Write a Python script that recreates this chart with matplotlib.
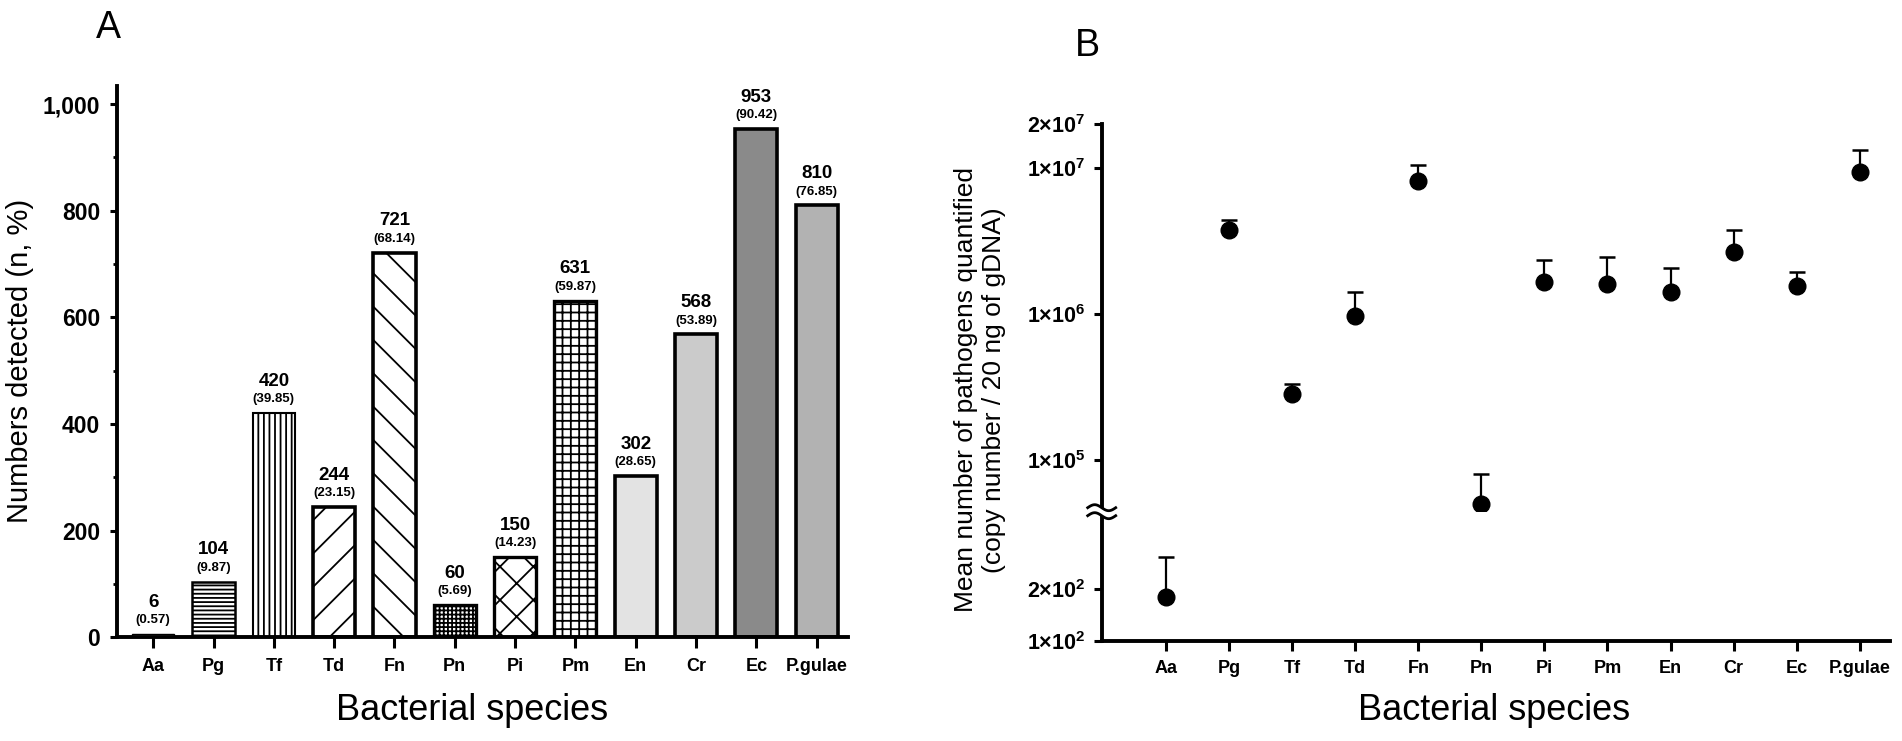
import matplotlib
matplotlib.use("agg")
import matplotlib.pyplot as plt
from matplotlib.lines import Line2D
from matplotlib.patches import Polygon
from matplotlib.ticker import NullLocator
import numpy as np

# data
species = ["Aa", "Pg", "Tf", "Td", "Fn", "Pn", "Pi", "Pm", "En", "Cr", "Ec", "P.gulae"]
detected_n = [6, 104, 420, 244, 721, 60, 150, 631, 302, 568, 953, 810]
detected_pct = [0.57, 9.87, 39.85, 23.15, 68.14, 5.69, 14.23, 59.87, 28.65, 53.89, 90.42, 76.85]
mean_copies = [178, 3.73e6, 2.81e5, 9.64e5, 8.11e6, 5.0e4, 1.65e6, 1.60e6, 1.41e6, 2.66e6, 1.55e6, 9.35e6]
upper_copies = [306, 4.38e6, 3.33e5, 1.42e6, 1.04e7, 8.07e4, 2.36e6, 2.46e6, 2.06e6, 3.74e6, 1.94e6, 1.32e7]

# bar styles for panel A
hatches = ["", "----", "|||", "/", "\\", "++++", "x", "++", "", "", "", ""]
fills = ["white"] * 8 + ["#e3e3e3", "#cbcbcb", "#8a8a8a", "#b2b2b2"]
edge_widths = [1.0, 1.8, 1.5, 2.6, 2.6, 2.4, 2.4, 2.4, 2.6, 2.6, 2.6, 2.6]

plt.rcParams["font.family"] = ["Liberation Sans", "DejaVu Sans"]
plt.rcParams["mathtext.fontset"] = "custom"
plt.rcParams["mathtext.rm"] = "Liberation Sans"
plt.rcParams["mathtext.bf"] = "Liberation Sans:bold"
plt.rcParams["hatch.linewidth"] = 1.3

W, H = 1902, 741
fig = plt.figure(figsize=(W / 100, H / 100), dpi=100)


def fx(px):
    return px / W


def fy(py):
    return 1 - py / H


x = np.arange(len(species))

# ---- panel A: bar chart ----
ax_a = fig.add_axes([fx(117), fy(637.3), fx(848 - 117), (637.3 - 86) / H])
for i in range(len(species)):
    ax_a.bar(x[i], detected_n[i], width=0.7, color=fills[i], edgecolor="black",
             linewidth=edge_widths[i], hatch=hatches[i])
    ax_a.annotate(f"{detected_n[i]}", (x[i], detected_n[i]), xytext=(0, 23),
                  textcoords="offset points", ha="center", va="center",
                  fontsize=13.5, fontweight="bold")
    ax_a.annotate(f"({detected_pct[i]:.2f})", (x[i], detected_n[i]), xytext=(0, 10),
                  textcoords="offset points", ha="center", va="center",
                  fontsize=9.5, fontweight="bold")

ax_a.set_xlim(-0.6, 11.52)
ax_a.set_ylim(0, 1034)
yt = np.arange(0, 1001, 200)
ax_a.set_yticks(yt, labels=[f"{v:,}" for v in yt], fontweight="bold")
ax_a.set_yticks(np.arange(100, 1000, 200), minor=True)
ax_a.set_xticks(x, labels=species, fontweight="bold")
for s in ["top", "right"]:
    ax_a.spines[s].set_visible(False)
for s in ["left", "bottom"]:
    ax_a.spines[s].set_linewidth(2.8)
ax_a.tick_params(axis="y", which="major", length=5, width=2.2, labelsize=16.5, pad=7)
ax_a.tick_params(axis="y", which="minor", length=3, width=2.0)
ax_a.tick_params(axis="x", length=8, width=2.2, labelsize=13, pad=7)

fig.text(fx(20), fy(361), "Numbers detected (n, %)", rotation=90,
         ha="center", va="center", fontsize=21)
fig.text(fx(472), fy(710), "Bacterial species", ha="center", va="center", fontsize=26)
fig.text(fx(108), fy(28), "A", ha="center", va="center", fontsize=27)

# ---- panel B: broken log axis ----
left_b, right_b = 1101.7, 1890
brk = 511.7
ax_hi = fig.add_axes([fx(left_b), fy(brk), fx(right_b - left_b), (brk - 124) / H])
ax_lo = fig.add_axes([fx(left_b), fy(640.7), fx(right_b - left_b), (640.7 - brk) / H])

mean_arr = np.array(mean_copies)
err = [np.zeros(len(species)), np.array(upper_copies) - mean_arr]
for ax in (ax_hi, ax_lo):
    ax.errorbar(x, mean_arr, yerr=err, fmt="o", color="black", ms=12,
                elinewidth=1.6, capsize=6, capthick=1.8)
    ax.set_yscale("log")
    ax.set_xlim(-1.02, 11.48)
    ax.yaxis.set_minor_locator(NullLocator())
    ax.spines["top"].set_visible(False)
    ax.spines["right"].set_visible(False)
    ax.spines["left"].set_linewidth(2.8)
    ax.tick_params(axis="y", length=6, width=2.2, labelsize=15.5, pad=6)

ax_hi.set_ylim(10 ** 4.646, 2e7)
ax_hi.set_yticks([1e5, 1e6, 1e7, 2e7],
                 labels=[r"$\mathbf{1×10^{5}}$", r"$\mathbf{1×10^{6}}$",
                         r"$\mathbf{1×10^{7}}$", r"$\mathbf{2×10^{7}}$"])
ax_hi.spines["bottom"].set_visible(False)
ax_hi.tick_params(axis="x", bottom=False, labelbottom=False)

ax_lo.set_ylim(100, 10 ** 2.7465)
ax_lo.set_yticks([100, 200], labels=[r"$\mathbf{1×10^{2}}$", r"$\mathbf{2×10^{2}}$"])
ax_lo.spines["bottom"].set_linewidth(2.8)
ax_lo.set_xticks(x, labels=species, fontweight="bold")
ax_lo.tick_params(axis="x", length=7, width=2.2, labelsize=13, pad=7)

# axis break mark
t = np.linspace(-1, 1, 40)
wx = fx(left_b + 14 * t)
wy_top = fy(brk - 4 + 3 * np.sin(np.pi * t))
wy_bot = fy(brk + 4 + 3 * np.sin(np.pi * t))
fig.add_artist(Polygon(np.column_stack([np.r_[wx, wx[::-1]], np.r_[wy_top, wy_bot[::-1]]]),
                       closed=True, facecolor="white", edgecolor="none",
                       transform=fig.transFigure))
for wy in (wy_top, wy_bot):
    fig.add_artist(Line2D(wx, wy, color="black", lw=2.0, transform=fig.transFigure))

fig.text(fx(979.7), fy(390), "Mean number of pathogens quantified\n(copy number / 20 ng of gDNA)",
         rotation=90, ha="center", va="center", multialignment="center",
         fontsize=19, linespacing=1.2)
fig.text(fx(1494), fy(710), "Bacterial species", ha="center", va="center", fontsize=26)
fig.text(fx(1087), fy(46), "B", ha="center", va="center", fontsize=27)

fig.savefig("out.png", dpi=100)
